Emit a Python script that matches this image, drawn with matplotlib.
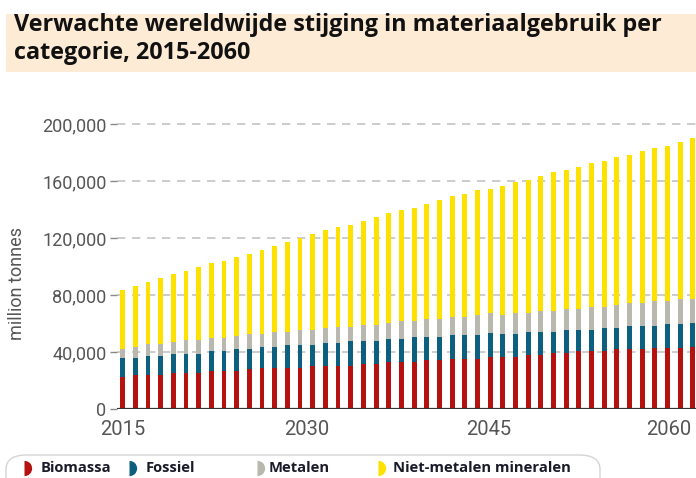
import numpy as np
import matplotlib.pyplot as plt
from matplotlib.patches import Rectangle, FancyBboxPatch
from matplotlib.lines import Line2D

years = np.arange(2015, 2061)

# material use per category, thousand million tonnes
biomassa = [22.8, 23.9, 23.9, 23.9, 25.3, 25.3, 25.3, 26.7, 26.7, 26.7,
            28.2, 29.1, 29.1, 29.1, 29.1, 30.5, 30.5, 30.5, 30.5, 31.9,
            31.9, 33.3, 33.3, 33.3, 34.5, 34.5, 35.4, 35.4, 35.4, 36.8,
            36.5, 36.5, 37.9, 37.9, 39.1, 39.1, 40.5, 40.5, 40.5, 41.9,
            41.9, 41.9, 43.0, 43.0, 43.0, 43.3]
fossiel = [13.1, 12.0, 13.6, 13.6, 13.6, 13.6, 13.6, 13.7, 13.7, 15.1,
           13.6, 14.1, 14.1, 15.5, 15.5, 14.1, 15.5, 15.5, 16.9, 15.5,
           15.5, 15.5, 15.5, 16.9, 15.7, 15.7, 16.2, 16.2, 16.2, 16.2,
           16.1, 16.4, 16.4, 16.4, 15.2, 16.6, 15.2, 15.2, 16.6, 15.2,
           16.6, 16.6, 15.5, 16.9, 16.9, 16.8]
metalen = [6.3, 7.7, 7.8, 7.8, 7.8, 9.2, 9.2, 9.1, 9.1, 9.1,
           10.5, 9.1, 10.5, 9.1, 10.5, 10.5, 10.5, 11.7, 10.3, 11.7,
           11.7, 11.7, 13.1, 11.7, 13.1, 13.1, 13.1, 13.1, 14.6, 14.3,
           13.4, 14.7, 13.3, 14.7, 14.7, 14.7, 14.7, 16.1, 14.7, 16.1,
           15.9, 15.9, 17.3, 15.9, 17.3, 17.3]
niet_metalen = [41.3, 42.7, 43.8, 46.4, 47.8, 49.0, 51.8, 53.0, 54.2, 55.6,
                56.8, 59.6, 60.8, 63.4, 64.8, 67.4, 68.8, 70.2, 71.6, 72.7,
                75.6, 76.7, 77.9, 79.3, 80.7, 83.3, 84.7, 85.9, 87.2, 87.3,
                90.7, 91.9, 93.1, 94.5, 97.1, 97.1, 99.7, 101.1, 102.5, 103.6,
                103.8, 106.4, 107.6, 109.0, 110.2, 112.8]

categories = ["Biomassa", "Fossiel", "Metalen", "Niet-metalen mineralen"]
colors = ["#b5110f", "#0d5f80", "#b8b8ae", "#ffe100"]

yticks = [0, 40000, 80000, 120000, 160000, 200000]
ytick_labels = ["0", "40,000", "80,000", "120,000", "160,000", "200,000"]
xtick_labels = ["2015", "2030", "2045", "2060"]

W, H = 696, 478


def fx(x):
    return x / W


def fy(y):
    return 1 - y / H


fig = plt.figure(figsize=(W / 100, H / 100), dpi=100)

# title banner
fig.patches.append(Rectangle((fx(6), fy(72)), fx(696 - 6), 58 / H,
                             transform=fig.transFigure, facecolor="#fdebd6",
                             edgecolor="none", zorder=0))
fig.text(fx(14), fy(31), "Verwachte wereldwijde stijging in materiaalgebruik per",
         family="Open Sans", weight="bold", fontsize=16.8, color="#111111", va="baseline")
fig.text(fx(14), fy(59), "categorie, 2015-2060",
         family="Open Sans", weight="bold", fontsize=16.8, color="#111111", va="baseline")

ax = fig.add_axes([fx(117), fy(409), fx(696 - 117), (409 - 115.4) / H])

series = [np.array(s) * 1000 for s in (biomassa, fossiel, metalen, niet_metalen)]
bottom = np.zeros(len(years))
for vals, col, name in zip(series, colors, categories):
    ax.bar(years, vals, bottom=bottom, width=0.38, color=col, label=name, zorder=2)
    bottom += vals

ax.set_xlim(2014.55, 2060.25)
ax.set_ylim(0, 206000)
ax.set_yticks(yticks)
ax.set_yticklabels(ytick_labels)
# labels in the original sit slightly off the bar years
ax.set_xticks([2015.0, 2029.55, 2043.86, 2058.1])
ax.set_xticklabels(xtick_labels)

for s in ["top", "right", "left", "bottom"]:
    ax.spines[s].set_visible(False)
ax.axhline(0, color="#333333", lw=1.6, zorder=3)

ax.yaxis.grid(True, color="#c4c4c4", lw=1.2, linestyle=(0, (5, 4)))
ax.set_axisbelow(True)
ax.tick_params(axis="y", length=5, width=1, color="#888888", pad=2.5,
               labelsize=13, labelcolor="#555555")
ax.tick_params(axis="x", length=0, pad=8, labelsize=14.5, labelcolor="#555555")
for lab in ax.get_xticklabels() + ax.get_yticklabels():
    lab.set_family("Roboto")

fig.text(fx(17), fy(283), "million tonnes", rotation=90, family="Roboto",
         fontsize=13, color="#555555", ha="center", va="center")

# legend strip at the bottom
fig.patches.append(FancyBboxPatch((fx(6), fy(495)), fx(600 - 6), 40 / H,
                                  boxstyle="round,pad=0,rounding_size=0.03",
                                  transform=fig.transFigure, facecolor="white",
                                  edgecolor="#d4d4d4", lw=1, zorder=1))
marker_x = [24, 129, 257, 378]
text_x = [41, 146, 269, 393]
for mx, tx, col, name in zip(marker_x, text_x, colors, categories):
    fig.add_artist(Line2D([fx(mx)], [fy(468)], transform=fig.transFigure,
                          marker="o", markersize=11, fillstyle="right",
                          markerfacecolor=col, markerfacecoloralt="none",
                          markeredgewidth=0, linestyle="none"))
    fig.text(fx(tx), fy(468), name, family="Open Sans", weight="bold", fontsize=10.6,
             color="#1a1a2a", va="center")

plt.savefig("out.png", dpi=100)
